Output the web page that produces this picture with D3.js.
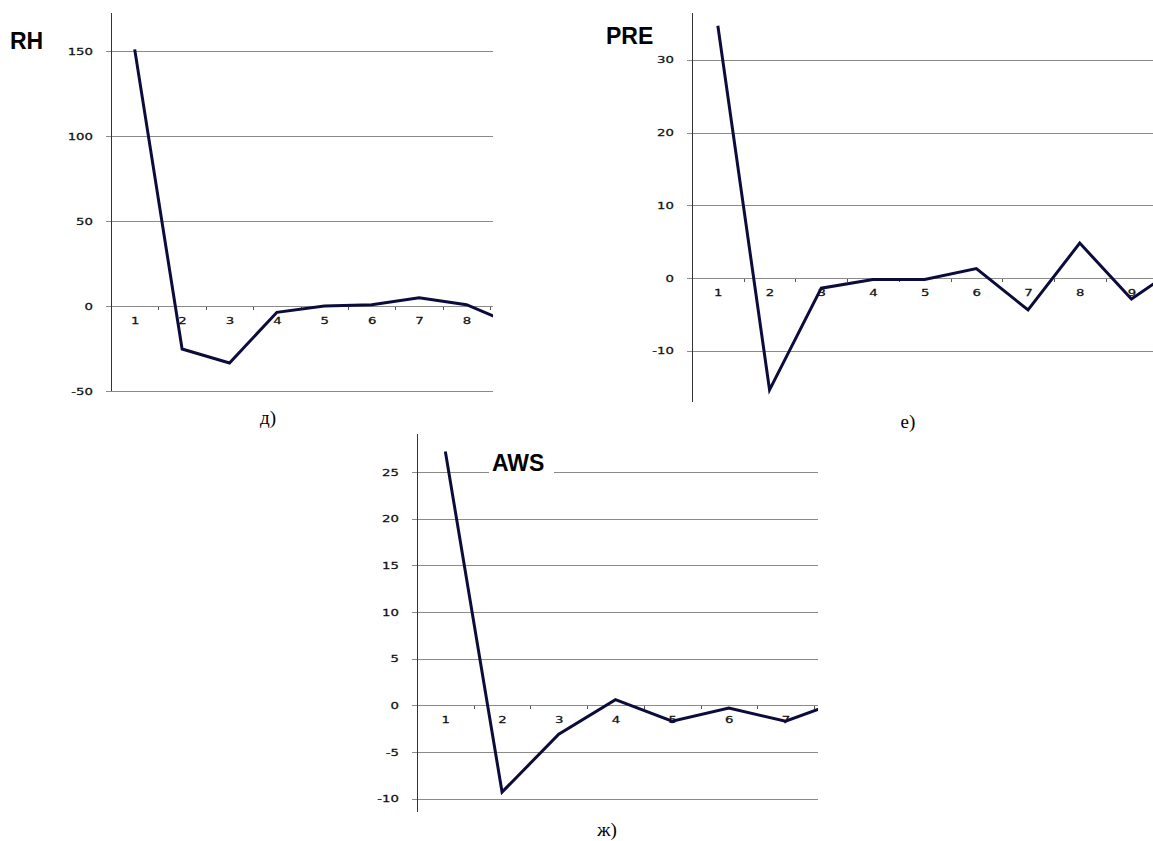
<!DOCTYPE html>
<meta charset="utf-8">
<style>
body { margin: 0; background: #fff; }
svg { display: block; background: #fff; }
.grid line { stroke: #8a8a8a; stroke-width: 1; shape-rendering: crispEdges; }
.yaxis line, .xticks line { stroke: #555; shape-rendering: crispEdges; }
.vaxis { stroke: #333; stroke-width: 1; shape-rendering: crispEdges; }
.tick text { font-family: "DejaVu Sans", sans-serif; font-size: 9.5px; fill: #111; stroke: #111; stroke-width: 0.25; }
.title { font-family: "Liberation Sans", Arial, sans-serif; font-weight: bold; font-size: 23px; fill: #000; }
.caption { font-family: "Liberation Serif", "Times New Roman", serif; font-size: 19px; fill: #000; }
.series { fill: none; stroke: #0c0c3c; stroke-width: 3; stroke-linejoin: miter; }
</style>
<svg width="1153" height="841"></svg>
<script src="https://d3js.org/d3.v7.min.js"></script>
<script>
let svg = d3.select("svg");

// RH panel
let rhLags = [1, 2, 3, 4, 5, 6, 7, 8, 9];
let rhValues = [151, -25.3, -33.5, -3.7, 0, 0.8, 4.8, 0.8, -11];
let rhYTicks = [-50, 0, 50, 100, 150];
let rhXLabels = [1, 2, 3, 4, 5, 6, 7, 8];

// PRE panel
let preLags = [1, 2, 3, 4, 5, 6, 7, 8, 9, 10];
let preValues = [34.7, -15.4, -1.4, -0.2, -0.2, 1.3, -4.4, 4.8, -2.9, 2];
let preYTicks = [-10, 0, 10, 20, 30];
let preXLabels = [1, 2, 3, 4, 5, 6, 7, 8, 9];

// AWS panel
let awsLags = [1, 2, 3, 4, 5, 6, 7, 8];
let awsValues = [27.2, -9.3, -3.1, 0.6, -1.7, -0.3, -1.7, 0.5];
let awsYTicks = [-10, -5, 0, 5, 10, 15, 20, 25];
let awsXLabels = [1, 2, 3, 4, 5, 6, 7];

let labelStretch = 1.4;

function drawPanel(id, lags, values, yTicks, xLabels, box, title, caption) {
  let x = d3.scaleLinear()
    .domain([0.5, lags.length + 0.5])
    .range([box.left, box.left + lags.length * box.step]);
  let y = d3.scaleLinear().domain(box.yDomain).range([box.bottom, box.top]);

  let g = svg.append("g");

  // horizontal gridlines, starting a little left of the axis (Excel outer ticks)
  g.append("g").attr("class", "grid")
    .selectAll("line")
    .data(yTicks)
    .enter()
    .append("line")
    .attr("x1", box.left - 5)
    .attr("x2", box.right)
    .attr("y1", function(d) { return Math.round(y(d)) + 0.5; })
    .attr("y2", function(d) { return Math.round(y(d)) + 0.5; });

  // y labels (plain hyphen for negatives, like the original)
  let ya = g.append("g").attr("class", "yaxis")
    .attr("transform", "translate(" + box.left + ",0)")
    .call(d3.axisLeft(y).tickValues(yTicks).tickSize(0).tickFormat(function(d) { return String(d); }));
  ya.select(".domain").remove();
  ya.selectAll("text")
    .attr("transform", "scale(" + labelStretch + ",1)")
    .attr("x", -18 / labelStretch);

  // category boundary ticks on the zero line
  let bounds = d3.range(1.5, lags.length, 1).filter(function(d) { return x(d) <= box.right; });
  let xt = g.append("g").attr("class", "xticks")
    .attr("transform", "translate(0," + (Math.round(y(0)) + 0.5) + ")")
    .call(d3.axisBottom(x).tickValues(bounds).tickSize(3).tickFormat(""));
  xt.select(".domain").remove();

  // category labels below the zero line
  let xl = g.append("g").attr("class", "xlabels")
    .attr("transform", "translate(0," + (y(0) + 8) + ")")
    .call(d3.axisBottom(x).tickValues(xLabels).tickSize(0));
  xl.select(".domain").remove();
  xl.selectAll("text").attr("transform", "scale(" + labelStretch + ",1)");

  // vertical axis
  g.append("line").attr("class", "vaxis")
    .attr("x1", box.left + 0.5).attr("x2", box.left + 0.5)
    .attr("y1", box.top).attr("y2", box.axisBottom);

  // clipped series line
  g.append("clipPath").attr("id", id + "-clip")
    .append("rect")
    .attr("x", box.left).attr("y", box.top - 10)
    .attr("width", box.right - box.left)
    .attr("height", box.bottom - box.top + 20);

  let line = d3.line()
    .x(function(d, i) { return x(lags[i]); })
    .y(function(d) { return y(d); });

  g.append("path")
    .datum(values)
    .attr("class", "series")
    .attr("clip-path", "url(#" + id + "-clip)")
    .attr("d", line);

  // title
  if (box.titleBg) {
    g.append("rect")
      .attr("x", box.titleBg[0]).attr("y", box.titleBg[1])
      .attr("width", box.titleBg[2]).attr("height", box.titleBg[3])
      .attr("fill", "#fff");
  }
  g.append("text").attr("class", "title")
    .attr("x", box.titleX).attr("y", box.titleY)
    .text(title);

  g.append("text").attr("class", "caption")
    .attr("x", box.capX).attr("y", box.capY)
    .attr("text-anchor", "middle")
    .text(caption);
}

drawPanel("rh", rhLags, rhValues, rhYTicks, rhXLabels,
  { left: 111, right: 493, step: 47.4, top: 13, bottom: 391, axisBottom: 391,
    yDomain: [-50, 172.4], titleX: 10, titleY: 49, capX: 268, capY: 424 },
  "RH", "д)");

drawPanel("pre", preLags, preValues, preYTicks, preXLabels,
  { left: 692, right: 1153, step: 51.7, top: 13, bottom: 402, axisBottom: 402,
    yDomain: [-17.06, 36.45], titleX: 606, titleY: 44, capX: 908, capY: 428 },
  "PRE", "е)");

drawPanel("aws", awsLags, awsValues, awsYTicks, awsXLabels,
  { left: 417, right: 818, step: 56.7, top: 434, bottom: 811.7, axisBottom: 811.7,
    yDomain: [-11.4, 29.07], titleX: 492, titleY: 471, capX: 607, capY: 836,
    titleBg: [489, 450, 65, 26] },
  "AWS", "ж)");
</script>
